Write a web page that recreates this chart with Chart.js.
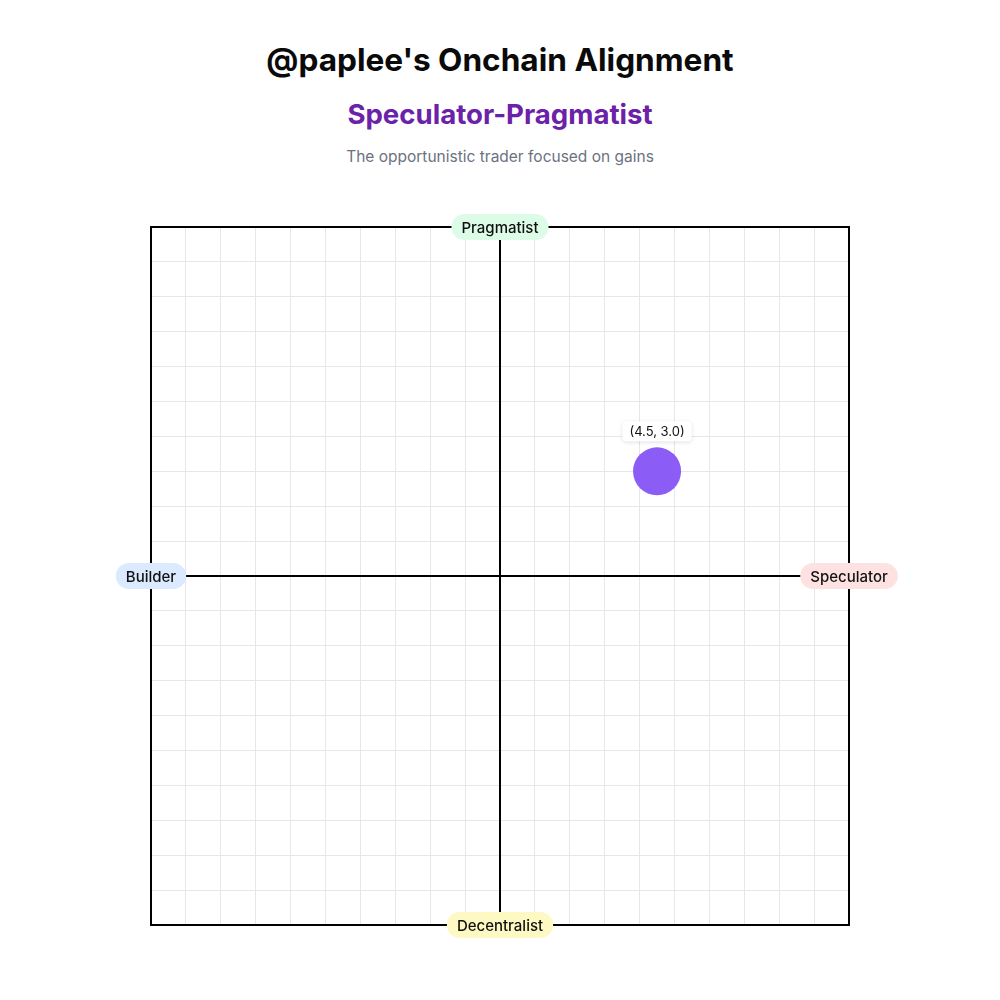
<!DOCTYPE html>
<html>
<head>
<meta charset="utf-8">
<script src="https://cdn.jsdelivr.net/npm/chart.js@4"></script>
<style>
  html, body { margin: 0; padding: 0; background: #fff; font-family: Inter, "Noto Sans", sans-serif; }
  #wrap { position: relative; width: 1000px; height: 1000px; }
  .t { position: absolute; left: 0; width: 1000px; text-align: center; margin: 0; }
  #title { top: 40px; font-size: 31.6px; font-weight: 700; color: #0a0a0a; line-height: 40px; }
  #sub { top: 97px; font-size: 27.6px; font-weight: 700; color: #6b21a8; line-height: 34px; }
  #desc { top: 147px; font-size: 15.5px; color: #6b7280; line-height: 20px; }
  #box { position: absolute; left: 0; top: 0; width: 1000px; height: 1000px; }
</style>
</head>
<body>
<div id="wrap">
  <h1 class="t" id="title">@paplee's Onchain Alignment</h1>
  <h2 class="t" id="sub">Speculator-Pragmatist</h2>
  <p class="t" id="desc">The opportunistic trader focused on gains</p>
  <div id="box"><canvas id="myChart"></canvas></div>
</div>
<script>
// data
var pointX = [4.5]
var pointY = [3.0]
var axisMin = -10
var axisMax = 10
var axisLabels = ['Pragmatist', 'Builder', 'Speculator', 'Decentralist']
var axisColors = ['#dcfce7', '#dbeafe', '#fee2e2', '#fef9c3']

function roundRect(ctx, x, y, w, h, r){
  ctx.beginPath()
  ctx.moveTo(x + r, y)
  ctx.lineTo(x + w - r, y)
  ctx.arcTo(x + w, y, x + w, y + r, r)
  ctx.lineTo(x + w, y + h - r)
  ctx.arcTo(x + w, y + h, x + w - r, y + h, r)
  ctx.lineTo(x + r, y + h)
  ctx.arcTo(x, y + h, x, y + h - r, r)
  ctx.lineTo(x, y + r)
  ctx.arcTo(x, y, x + r, y, r)
  ctx.closePath()
}

var quadPlugin = {
  id: 'quad',
  afterDatasetsDraw: function(chart){
    var ctx = chart.ctx
    var a = chart.chartArea
    var xs = chart.scales.x, ys = chart.scales.y
    ctx.save()
    // frame
    ctx.strokeStyle = '#000'
    ctx.lineWidth = 2
    ctx.strokeRect(a.left, a.top, a.right - a.left, a.bottom - a.top)
    // center axes
    var cx = xs.getPixelForValue(0), cy = ys.getPixelForValue(0)
    ctx.beginPath()
    ctx.moveTo(cx, a.top); ctx.lineTo(cx, a.bottom)
    ctx.moveTo(a.left, cy); ctx.lineTo(a.right, cy)
    ctx.stroke()

    // axis end labels
    var spots = [
      [cx, a.top], [a.left, cy], [a.right, cy], [cx, a.bottom]
    ]
    ctx.font = '500 15px Inter, "Noto Sans", sans-serif'
    ctx.textAlign = 'center'
    ctx.textBaseline = 'middle'
    axisLabels.forEach(function(lbl, i){
      var w = ctx.measureText(lbl).width + 20
      var h = 26
      var p = spots[i]
      ctx.fillStyle = axisColors[i]
      roundRect(ctx, p[0] - w / 2, p[1] - h / 2, w, h, 13)
      ctx.fill()
      ctx.fillStyle = '#111'
      ctx.fillText(lbl, p[0], p[1] + 1)
    })

    // point label
    var meta = chart.getDatasetMeta(0)
    meta.data.forEach(function(el, i){
      var txt = '(' + pointX[i].toFixed(1) + ', ' + pointY[i].toFixed(1) + ')'
      ctx.font = '13px Inter, "Noto Sans", sans-serif'
      var w = ctx.measureText(txt).width + 14
      var h = 20
      var bx = el.x - w / 2, by = el.y - 50
      ctx.save()
      ctx.shadowColor = 'rgba(0,0,0,0.12)'
      ctx.shadowBlur = 4
      ctx.shadowOffsetY = 1
      ctx.fillStyle = '#fff'
      roundRect(ctx, bx, by, w, h, 4)
      ctx.fill()
      ctx.restore()
      ctx.fillStyle = '#111'
      ctx.textAlign = 'center'
      ctx.textBaseline = 'middle'
      ctx.fillText(txt, el.x, by + h / 2 + 1)
    })
    ctx.restore()
  }
}

var ctx = document.getElementById('myChart').getContext('2d')
var chart = new Chart(ctx, {
  type: 'scatter',
  data: {
    datasets: [{
      label: 'alignment',
      data: pointX.map(function(x, i){ return {x: x, y: pointY[i]} }),
      backgroundColor: '#8b5cf6',
      borderWidth: 0,
      pointRadius: 24,
      pointHoverRadius: 24
    }]
  },
  options: {
    responsive: true,
    maintainAspectRatio: false,
    animation: false,
    layout: { padding: { left: 151, right: 151, top: 227, bottom: 75 } },
    plugins: { legend: { display: false }, tooltip: { enabled: false } },
    scales: {
      x: {
        type: 'linear', min: axisMin, max: axisMax,
        ticks: { display: false, stepSize: 1 },
        border: { display: false },
        grid: { color: '#e5e7eb', lineWidth: 1, drawTicks: false }
      },
      y: {
        type: 'linear', min: axisMin, max: axisMax,
        ticks: { display: false, stepSize: 1 },
        border: { display: false },
        grid: { color: '#e5e7eb', lineWidth: 1, drawTicks: false }
      }
    }
  },
  plugins: [quadPlugin]
})
</script>
</body>
</html>
